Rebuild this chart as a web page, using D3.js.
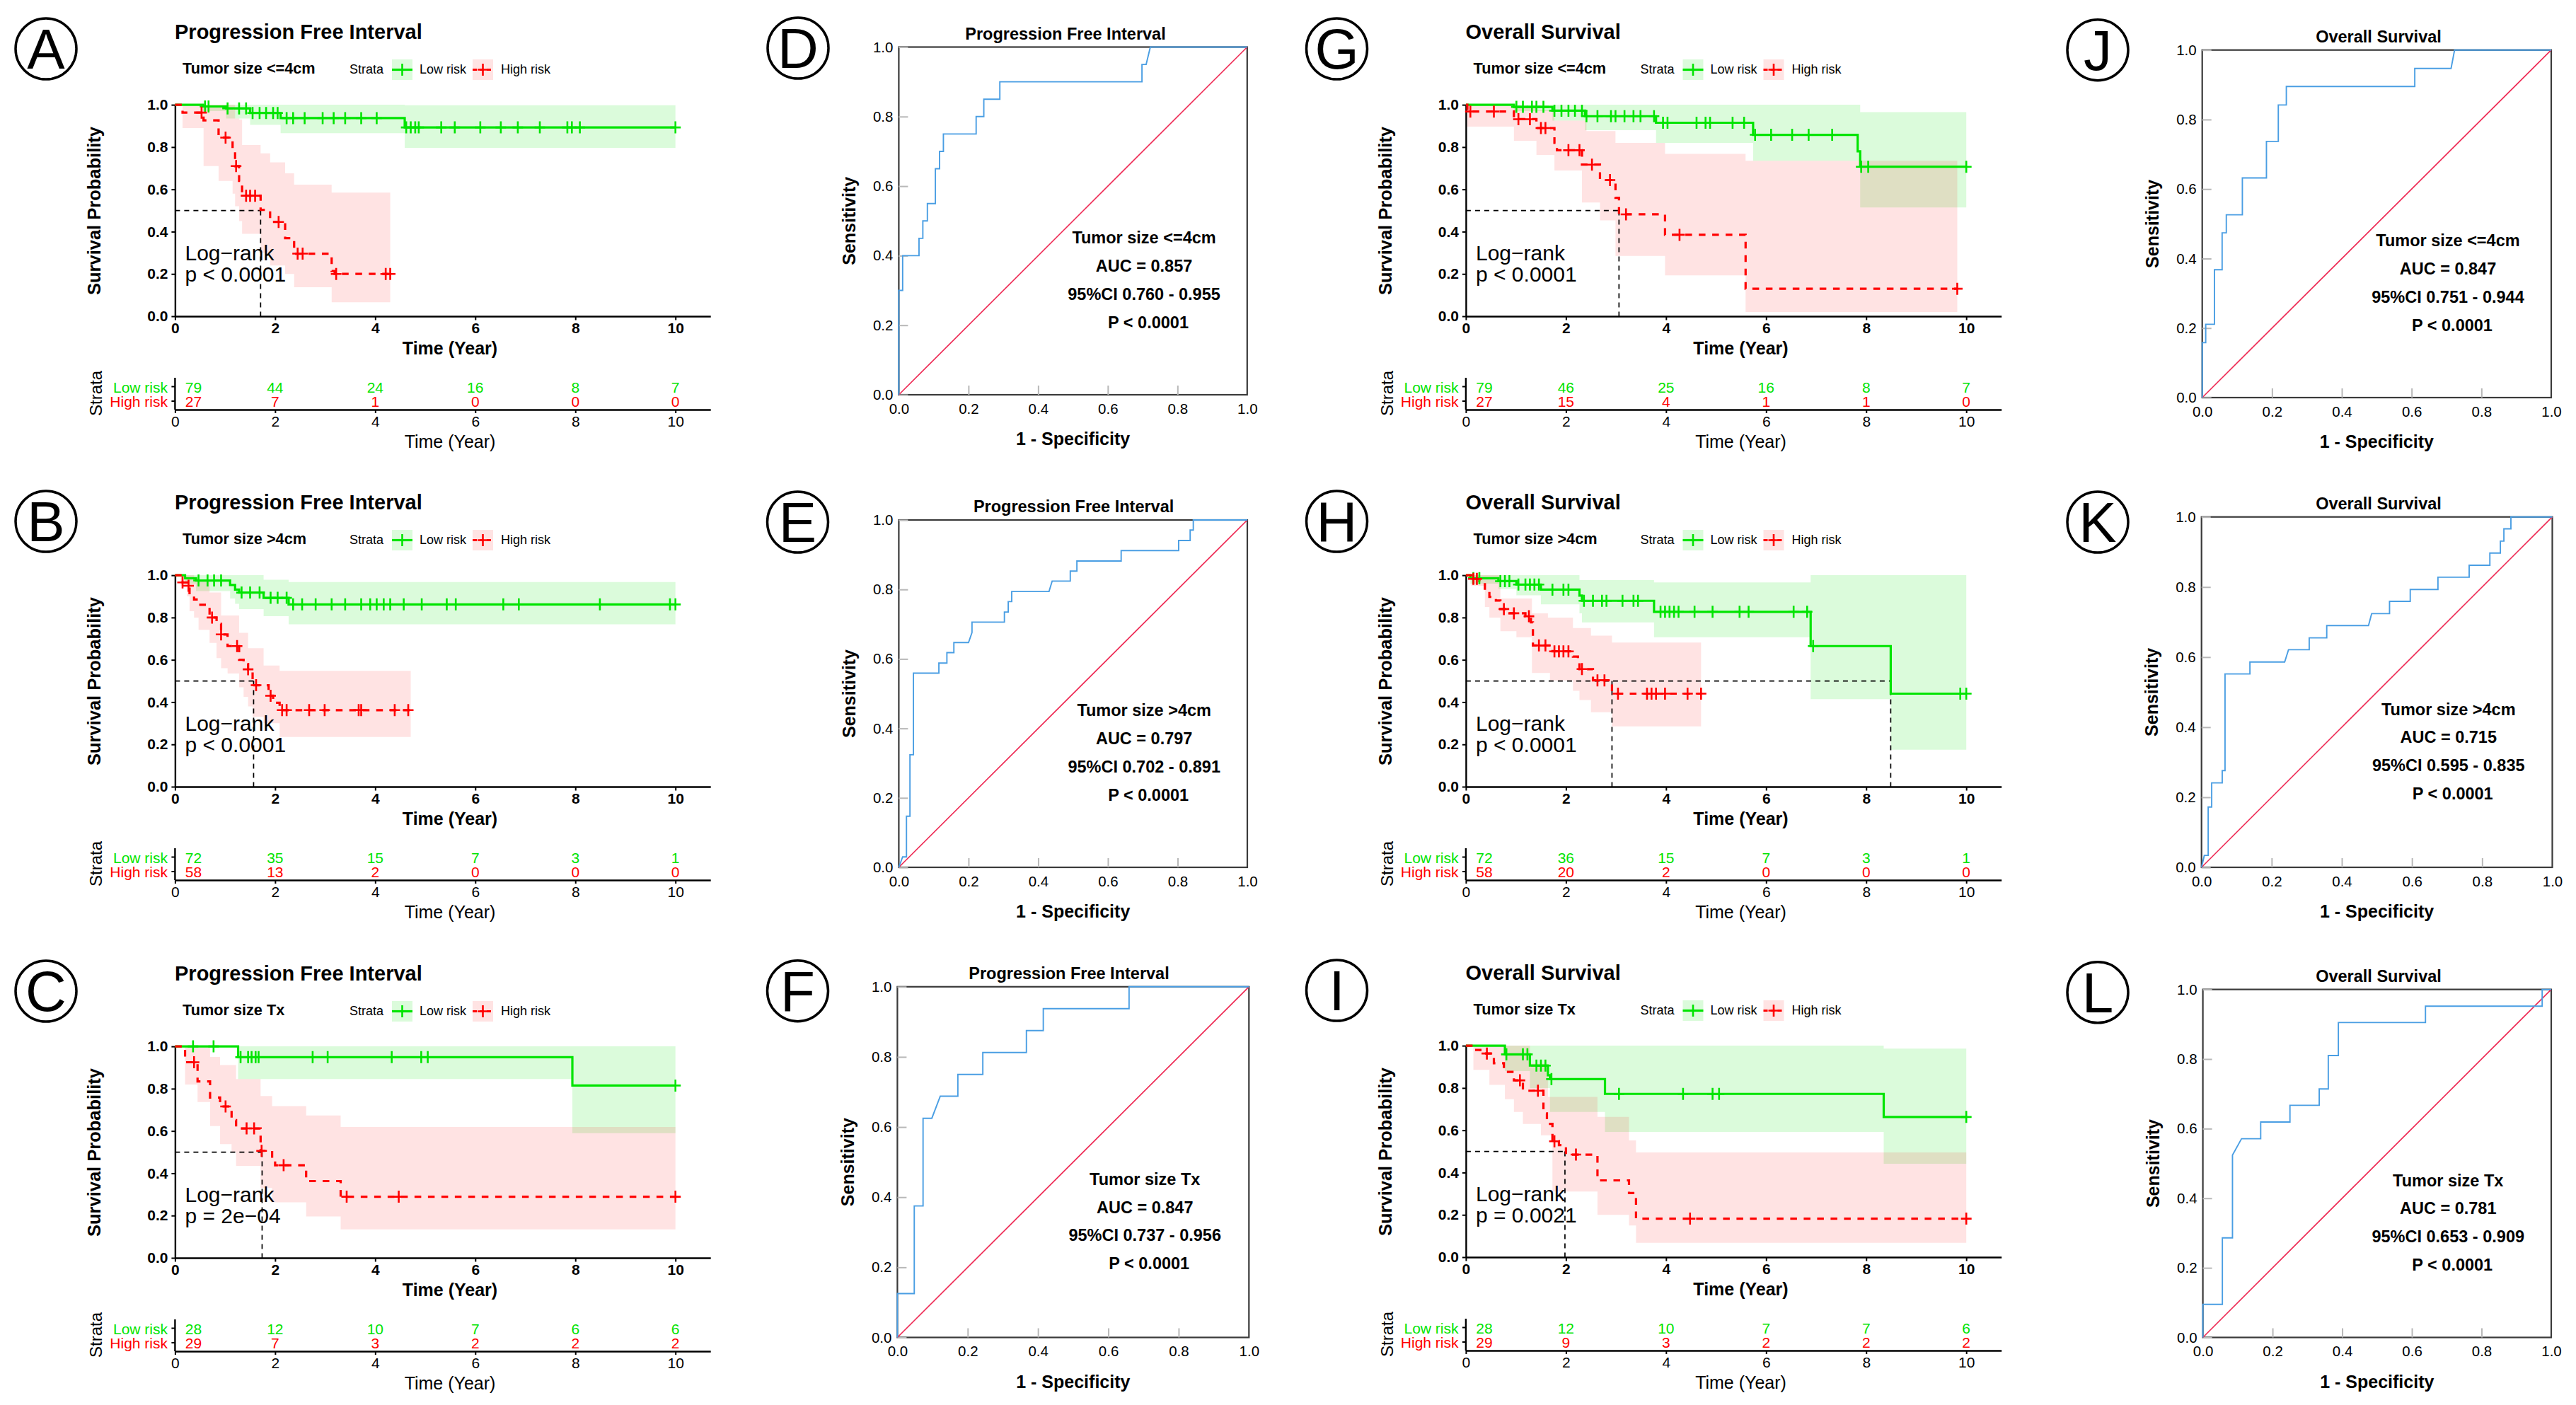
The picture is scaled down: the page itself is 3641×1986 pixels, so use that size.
<!DOCTYPE html>
<html><head><meta charset="utf-8">
<script src="https://cdn.jsdelivr.net/npm/d3@7"></script>
<style>body{margin:0;background:#fff}svg{display:block}</style>
</head><body>
<svg id="c" width="3641" height="1986"></svg>
<script>
// ---------------- DATA ----------------
const timeTicks = [0, 2, 4, 6, 8, 10];
const survTicks = [0, 0.2, 0.4, 0.6, 0.8, 1.0];
const rocTicks = [0, 0.2, 0.4, 0.6, 0.8, 1.0];

// A: PFI, tumor size <=4cm
const aLowSteps = [[0,1],[0.56,0.992],[1.02,0.983],[1.5,0.961],[2.11,0.937],[4.59,0.893],[10,0.893]];
const aLowBand = [[0.56,0.97,1],[1.02,0.935,1],[1.5,0.905,1],[2.11,0.866,1],[4.59,0.796,0.998],[10,0.796,0.998]];
const aLowCensor = [0.6,0.67,1.05,1.28,1.42,1.55,1.69,1.82,1.96,2.05,2.23,2.36,2.59,2.95,3.17,3.4,3.72,4.03,4.62,4.71,4.8,4.87,5.32,5.59,6.1,6.51,6.85,7.29,7.84,7.93,8.09,10];
const aHighSteps = [[0,1],[0.15,0.963],[0.57,0.926],[0.87,0.845],[1.15,0.79],[1.2,0.71],[1.28,0.64],[1.34,0.57],[1.71,0.503],[1.9,0.446],[2.2,0.369],[2.38,0.296],[3.13,0.214],[3.19,0.2],[4.3,0.2]];
const aHighBand = [[0.15,0.89,1],[0.57,0.71,1],[0.87,0.64,1],[1.15,0.58,1],[1.2,0.52,0.935],[1.28,0.45,0.93],[1.34,0.39,0.81],[1.71,0.3,0.77],[1.9,0.24,0.728],[2.2,0.2,0.676],[2.38,0.137,0.622],[3.13,0.066,0.585],[4.3,0.066,0.585]];
const aHighCensor = [0.53,1.01,1.22,1.42,1.5,1.6,2.07,2.45,2.55,3.22,4.21,4.3];
const aLowRisk = [79,44,24,16,8,7];
const aHighRisk = [27,7,1,0,0,0];
const aMedians = [1.71];

// B: PFI, tumor size >4cm
const bLowSteps = [[0,1],[0.2,0.986],[0.42,0.975],[1.1,0.954],[1.2,0.932],[1.28,0.918],[1.77,0.893],[2.27,0.862],[10,0.862]];
const bLowBand = [[0.2,0.96,1],[0.42,0.925,1],[1.1,0.89,1],[1.2,0.865,1],[1.28,0.84,1],[1.77,0.806,0.979],[2.27,0.768,0.968],[10,0.768,0.968]];
const bLowCensor = [0.47,0.65,0.78,0.92,1.33,1.5,1.69,1.91,2.05,2.23,2.36,2.54,2.81,3.13,3.4,3.72,3.9,4.03,4.17,4.3,4.57,4.93,5.43,5.61,6.56,6.87,8.49,9.89,10];
const bHighSteps = [[0,1],[0.11,0.983],[0.15,0.966],[0.24,0.95],[0.29,0.907],[0.38,0.885],[0.47,0.86],[0.69,0.8],[0.83,0.77],[0.92,0.72],[1.05,0.665],[1.28,0.6],[1.37,0.58],[1.46,0.555],[1.55,0.48],[1.87,0.43],[1.96,0.397],[2.09,0.362],[4.71,0.362]];
const bHighBand = [[0.11,0.95,1],[0.24,0.9,1],[0.29,0.83,1],[0.38,0.8,0.985],[0.47,0.742,0.97],[0.69,0.68,0.918],[0.83,0.608,0.918],[0.92,0.56,0.81],[1.05,0.535,0.81],[1.28,0.47,0.728],[1.37,0.425,0.728],[1.46,0.38,0.655],[1.55,0.33,0.655],[1.77,0.3,0.573],[2.09,0.235,0.548],[4.71,0.235,0.548]];
const bHighCensor = [0.15,0.27,0.74,0.92,1.24,1.46,1.62,1.91,2.14,2.23,2.68,2.99,3.67,3.72,4.39,4.66];
const bLowRisk = [72,35,15,7,3,1];
const bHighRisk = [58,13,2,0,0,0];
const bMedians = [1.57];

// C: PFI, tumor size Tx
const cLowSteps = [[0,1],[1.26,0.949],[7.94,0.815],[10,0.815]];
const cLowBand = [[1.26,0.846,1],[7.94,0.59,1],[10,0.59,1]];
const cLowCensor = [0.36,0.77,1.31,1.46,1.53,1.61,1.67,2.75,3.05,4.33,4.92,5.05,10];
const cHighSteps = [[0,1],[0.2,0.925],[0.45,0.834],[0.7,0.758],[0.9,0.716],[1.13,0.651],[1.22,0.612],[1.71,0.506],[1.94,0.469],[2.0,0.438],[2.62,0.363],[3.31,0.289],[10,0.289]];
const cHighBand = [[0.2,0.82,1],[0.45,0.737,1],[0.7,0.623,0.95],[0.9,0.538,0.912],[1.13,0.5,0.912],[1.22,0.435,0.846],[1.71,0.33,0.765],[1.94,0.263,0.718],[2.62,0.196,0.673],[3.31,0.135,0.619],[10,0.135,0.619]];
const cHighCensor = [0.38,1.01,1.43,1.58,1.73,2.17,3.43,4.47,10];
const cLowRisk = [28,12,10,7,6,6];
const cHighRisk = [29,7,3,2,2,2];
const cMedians = [1.74];

// G: OS, tumor size <=4cm
const gLowSteps = [[0,1],[0.96,0.99],[1.73,0.972],[2.38,0.946],[3.8,0.915],[5.74,0.858],[7.83,0.78],[7.88,0.707],[10,0.707]];
const gLowBand = [[0.96,0.97,1],[1.73,0.925,1],[2.38,0.88,1],[3.8,0.82,1],[5.74,0.735,1],[7.88,0.514,0.965],[10,0.514,0.965]];
const gLowCensor = [1.01,1.14,1.32,1.41,1.55,1.77,1.91,2.05,2.18,2.32,2.41,2.63,2.9,2.99,3.17,3.35,3.49,3.76,3.94,4.03,4.61,4.79,4.88,5.33,5.56,5.78,6.1,6.52,6.85,7.32,7.9,8.04,10];
const gHighSteps = [[0,1],[0.03,0.968],[0.96,0.932],[1.41,0.89],[1.77,0.82],[1.82,0.785],[2.32,0.717],[2.68,0.644],[2.99,0.56],[3.06,0.482],[3.98,0.385],[5.59,0.13],[9.82,0.13]];
const gHighBand = [[0.03,0.897,1],[0.96,0.83,0.985],[1.41,0.763,0.975],[1.77,0.689,0.925],[2.32,0.538,0.925],[2.41,0.538,0.876],[2.68,0.453,0.876],[2.99,0.285,0.82],[3.98,0.193,0.768],[5.59,0.02,0.735],[9.82,0.02,0.735]];
const gHighCensor = [0.09,0.56,1.05,1.28,1.5,1.59,2.05,2.27,2.52,2.88,3.2,4.27,9.82];
const gLowRisk = [79,46,25,16,8,7];
const gHighRisk = [27,15,4,1,1,0];
const gMedians = [3.06];

// H: OS, tumor size >4cm
const hLowSteps = [[0,1],[0.09,0.986],[0.65,0.972],[1.01,0.956],[1.5,0.932],[2.27,0.904],[2.32,0.879],[3.76,0.827],[6.89,0.665],[8.49,0.44],[10,0.44]];
const hLowBand = [[0.09,0.96,1],[0.65,0.935,1],[1.01,0.905,1],[1.5,0.862,1],[2.27,0.82,0.977],[2.32,0.777,0.977],[3.76,0.707,0.966],[6.89,0.414,1],[8.49,0.175,1],[10,0.175,1]];
const hLowCensor = [0.15,0.27,0.69,0.78,0.87,1.05,1.19,1.28,1.37,1.46,1.73,1.95,2.05,2.36,2.54,2.72,2.81,3.13,3.35,3.44,3.89,3.98,4.07,4.16,4.25,4.57,4.93,5.47,5.65,6.55,6.82,6.94,9.88,10];
const hHighSteps = [[0,1],[0.11,0.983],[0.27,0.972],[0.38,0.93],[0.47,0.898],[0.6,0.88],[0.69,0.84],[0.87,0.82],[1.19,0.806],[1.3,0.777],[1.34,0.668],[1.73,0.64],[2.14,0.615],[2.24,0.594],[2.27,0.556],[2.54,0.503],[2.92,0.44],[4.7,0.44]];
const hHighBand = [[0.11,0.95,1],[0.38,0.85,1],[0.47,0.8,1],[0.69,0.735,0.89],[1.01,0.707,0.89],[1.32,0.538,0.82],[1.64,0.538,0.8],[1.68,0.503,0.8],[2.14,0.453,0.75],[2.27,0.41,0.75],[2.5,0.352,0.714],[2.92,0.285,0.682],[4.7,0.285,0.682]];
const hHighCensor = [0.15,0.22,0.76,0.96,1.26,1.46,1.59,1.77,1.86,1.95,2.05,2.32,2.63,2.77,3.04,3.62,3.71,3.8,3.98,4.43,4.7];
const hLowRisk = [72,36,15,7,3,1];
const hHighRisk = [58,20,2,0,0,0];
const hMedians = [2.92, 8.49];

// I: OS, tumor size Tx
const iLowSteps = [[0,1],[0.78,0.959],[1.28,0.906],[1.64,0.86],[1.68,0.842],[2.78,0.772],[8.35,0.663],[10,0.663]];
const iLowBand = [[0.78,0.88,1],[1.28,0.8,1],[1.68,0.687,1],[2.78,0.592,1],[8.35,0.442,0.986],[10,0.442,0.986]];
const iLowCensor = [0.81,1.14,1.23,1.41,1.5,1.59,1.71,3.06,4.34,4.93,5.06,10];
const iHighSteps = [[0,1],[0.15,0.98],[0.29,0.963],[0.56,0.917],[0.76,0.876],[0.96,0.836],[1.14,0.787],[1.55,0.68],[1.62,0.63],[1.73,0.548],[1.86,0.53],[2.0,0.485],[2.63,0.363],[3.26,0.303],[3.4,0.182],[10,0.182]];
const iHighBand = [[0.15,0.886,1],[0.47,0.815,1],[0.78,0.747,1],[0.96,0.687,1],[1.14,0.63,1],[1.28,0.63,0.915],[1.5,0.576,0.915],[1.64,0.576,0.758],[1.73,0.31,0.758],[2.63,0.2,0.663],[3.26,0.15,0.552],[3.4,0.068,0.495],[10,0.068,0.495]];
const iHighCensor = [0.42,1.08,1.44,1.77,2.2,4.48,10];
const iLowRisk = [28,12,10,7,7,6];
const iHighRisk = [29,9,3,2,2,2];
const iMedians = [1.98];

// ROC curves: [1 - specificity, sensitivity]
const dRoc = [[0,0],[0,0.30],[0.011,0.30],[0.011,0.40],[0.058,0.40],[0.058,0.45],[0.069,0.45],[0.069,0.50],[0.082,0.50],[0.082,0.55],[0.105,0.55],[0.105,0.65],[0.117,0.65],[0.117,0.70],[0.128,0.70],[0.128,0.75],[0.222,0.75],[0.222,0.80],[0.244,0.80],[0.244,0.85],[0.29,0.85],[0.29,0.90],[0.698,0.90],[0.698,0.95],[0.71,0.95],[0.722,1.0],[1,1]];
const eRoc = [[0,0],[0.011,0.03],[0.022,0.03],[0.022,0.147],[0.032,0.147],[0.032,0.324],[0.042,0.324],[0.042,0.559],[0.115,0.559],[0.115,0.588],[0.138,0.588],[0.138,0.618],[0.158,0.618],[0.158,0.647],[0.2,0.647],[0.21,0.676],[0.21,0.706],[0.303,0.706],[0.303,0.735],[0.314,0.735],[0.314,0.765],[0.324,0.765],[0.324,0.794],[0.431,0.794],[0.44,0.824],[0.492,0.824],[0.492,0.853],[0.511,0.853],[0.511,0.882],[0.638,0.882],[0.638,0.912],[0.803,0.912],[0.803,0.941],[0.836,0.941],[0.836,0.971],[0.845,0.971],[0.845,1],[1,1]];
const fRoc = [[0,0],[0,0.125],[0.048,0.125],[0.048,0.375],[0.073,0.375],[0.073,0.625],[0.098,0.625],[0.122,0.688],[0.172,0.688],[0.172,0.75],[0.243,0.75],[0.243,0.8125],[0.367,0.8125],[0.367,0.875],[0.415,0.875],[0.415,0.9375],[0.659,0.9375],[0.659,1],[1,1]];
const jRoc = [[0,0],[0,0.158],[0.01,0.158],[0.01,0.211],[0.035,0.211],[0.035,0.368],[0.057,0.368],[0.057,0.474],[0.069,0.474],[0.069,0.526],[0.115,0.526],[0.115,0.632],[0.184,0.632],[0.184,0.737],[0.218,0.737],[0.218,0.842],[0.241,0.842],[0.241,0.895],[0.609,0.895],[0.609,0.947],[0.713,0.947],[0.723,1],[1,1]];
const kRoc = [[0,0],[0.008,0.034],[0.019,0.034],[0.019,0.172],[0.029,0.172],[0.029,0.241],[0.059,0.241],[0.059,0.276],[0.067,0.276],[0.067,0.552],[0.138,0.552],[0.138,0.586],[0.237,0.586],[0.248,0.621],[0.307,0.621],[0.307,0.655],[0.357,0.655],[0.357,0.69],[0.476,0.69],[0.485,0.724],[0.536,0.724],[0.536,0.759],[0.595,0.759],[0.595,0.793],[0.674,0.793],[0.674,0.828],[0.763,0.828],[0.763,0.862],[0.822,0.862],[0.822,0.897],[0.852,0.897],[0.852,0.931],[0.862,0.931],[0.862,0.966],[0.882,0.966],[0.882,1],[1,1]];
const lRoc = [[0,0],[0,0.095],[0.056,0.095],[0.056,0.286],[0.085,0.286],[0.085,0.524],[0.111,0.571],[0.166,0.571],[0.166,0.619],[0.25,0.619],[0.25,0.667],[0.334,0.667],[0.334,0.714],[0.36,0.714],[0.36,0.81],[0.389,0.81],[0.389,0.905],[0.639,0.905],[0.639,0.952],[0.974,0.952],[0.974,1],[1,1]];

const dNotes = ['Tumor size <=4cm','AUC = 0.857','95%CI 0.760 - 0.955','P < 0.0001'];
const eNotes = ['Tumor size >4cm','AUC = 0.797','95%CI 0.702 - 0.891','P < 0.0001'];
const fNotes = ['Tumor size Tx','AUC = 0.847','95%CI 0.737 - 0.956','P < 0.0001'];
const jNotes = ['Tumor size <=4cm','AUC = 0.847','95%CI 0.751 - 0.944','P < 0.0001'];
const kNotes = ['Tumor size >4cm','AUC = 0.715','95%CI 0.595 - 0.835','P < 0.0001'];
const lNotes = ['Tumor size Tx','AUC = 0.781','95%CI 0.653 - 0.909','P < 0.0001'];

const pfiTitle = 'Progression Free Interval';
const osTitle = 'Overall Survival';
const strataNames = ['Low risk', 'High risk'];

// ---------------- STYLE / LAYOUT ----------------
const FONT = "'Liberation Sans', Arial, Helvetica, sans-serif";
const GREEN = '#00e400', RED = '#ff0000';
const BLUE_ROC = '#4a9ee3', RED_ROC = '#ee2b55';
const svg = d3.select('#c');
const fmt1 = d3.format('.1f');

function T(g, x, y, s, o = {}) {
  const t = g.append('text').attr('x', x).attr('y', y).text(s)
    .attr('font-family', FONT).attr('font-size', o.size || 20)
    .attr('font-weight', o.weight || 'normal')
    .attr('text-anchor', o.anchor || 'start')
    .attr('fill', o.fill || '#000');
  if (o.rotate) t.attr('transform', `rotate(${o.rotate},${x},${y})`);
  if (o.dx) t.attr('dx', o.dx);
  return t;
}
function circleLabel(cx, cy, ch) {
  svg.append('circle').attr('cx', cx).attr('cy', cy).attr('r', 43)
    .attr('fill', 'none').attr('stroke', '#000').attr('stroke-width', 3.5);
  T(svg, cx, cy + 28, ch, {size: 80, anchor: 'middle'});
}
function plus(g, x, y, color) {
  g.append('path').attr('d', `M${x-7.5},${y}H${x+7.5}M${x},${y-8.5}V${y+8.5}`)
    .attr('stroke', color).attr('stroke-width', 2.6).attr('fill', 'none');
}
function survAt(steps, t) {
  let s = steps[0][1];
  for (const [tt, ss] of steps) if (tt <= t) s = ss;
  return s;
}
function styleAxis(a, size, weight) {
  a.selectAll('text').attr('font-family', FONT).attr('font-size', size)
    .attr('font-weight', weight).attr('fill', '#000');
  a.selectAll('line').attr('stroke', '#000').attr('stroke-width', 2);
  a.select('.domain').attr('stroke', '#000').attr('stroke-width', 2.4);
}

function drawKM(P, L) {
  const ox = L.ox, oy = L.oy;
  const g = svg.append('g');
  const pxPerYear = 70.73;
  const x = d3.scaleLinear().domain([0, 10.7]).range([247.4 + ox, 247.4 + ox + 10.7 * pxPerYear]);
  const y = d3.scaleLinear().domain([0, 1]).range([447 + oy, 148.1 + oy]);

  circleLabel(65 + ox, 69 + oy + L.cdy, P.letter);
  T(g, 247 + ox, 55 + oy, P.title, {size: 29, weight: 'bold'});
  T(g, 258 + ox, 104 + oy, P.sub, {size: 21.7, weight: 'bold'});
  T(g, 494 + ox, 104 + oy, 'Strata', {size: 18});
  // legend keys
  [[554, GREEN, false, 0.14, 593, strataNames[0]], [668, RED, true, 0.11, 708, strataNames[1]]].forEach(k => {
    const kx = k[0] + ox, ky = 84 + oy;
    g.append('rect').attr('x', kx).attr('y', ky).attr('width', 29).attr('height', 29)
      .attr('fill', k[1]).attr('fill-opacity', k[3]);
    g.append('line').attr('x1', kx).attr('x2', kx + 29).attr('y1', ky + 14.5).attr('y2', ky + 14.5)
      .attr('stroke', k[1]).attr('stroke-width', 3.2).attr('stroke-dasharray', k[2] ? '6,4' : null);
    plus(g, kx + 14.5, ky + 14.5, k[1]);
    T(g, k[4] + ox, 104 + oy, k[5], {size: 18});
  });

  // confidence bands
  const area = d3.area().curve(d3.curveStepAfter).x(d => x(d[0])).y0(d => y(d[1])).y1(d => y(d[2]));
  g.append('path').attr('d', area(P.lowBand)).attr('fill', GREEN).attr('fill-opacity', 0.14);
  g.append('path').attr('d', area(P.highBand)).attr('fill', RED).attr('fill-opacity', 0.11);

  // median survival lines
  const mMax = d3.max(P.medians);
  g.append('line').attr('x1', x(0)).attr('x2', x(mMax)).attr('y1', y(0.5)).attr('y2', y(0.5))
    .attr('stroke', '#000').attr('stroke-width', 1.7).attr('stroke-dasharray', '7,6');
  P.medians.forEach(m => g.append('line').attr('x1', x(m)).attr('x2', x(m)).attr('y1', y(0.5)).attr('y2', y(0))
    .attr('stroke', '#000').attr('stroke-width', 1.7).attr('stroke-dasharray', '7,6'));

  // axes
  const ya = g.append('g').attr('transform', `translate(${x(0)},0)`)
    .call(d3.axisLeft(y).tickValues(survTicks).tickFormat(fmt1).tickSize(5).tickPadding(5).tickSizeOuter(0));
  styleAxis(ya, 21, 'bold');
  const xa = g.append('g').attr('transform', `translate(0,${y(0)})`)
    .call(d3.axisBottom(x).tickValues(timeTicks).tickSize(5.5).tickPadding(3.5).tickSizeOuter(0));
  styleAxis(xa, 21, 'bold');

  // curves
  const line = d3.line().curve(d3.curveStepAfter).x(d => x(d[0])).y(d => y(d[1]));
  g.append('path').attr('d', line(P.low)).attr('fill', 'none').attr('stroke', GREEN).attr('stroke-width', 3.2);
  g.append('path').attr('d', line(P.high)).attr('fill', 'none').attr('stroke', RED).attr('stroke-width', 3.2)
    .attr('stroke-dasharray', '9.5,9.5');
  P.lowCens.forEach(t => plus(g, x(t), y(survAt(P.low, t)), GREEN));
  P.highCens.forEach(t => plus(g, x(t), y(survAt(P.high, t)), RED));

  T(g, 261.5 + ox, 368 + oy, 'Log\u2212rank', {size: 30});
  T(g, 261.5 + ox, 398 + oy, P.pText, {size: 30});
  T(g, 636 + ox, 501 + oy, 'Time (Year)', {size: 25, weight: 'bold', anchor: 'middle'});
  T(g, 142 + ox, 298 + oy, 'Survival Probability', {size: 25.5, weight: 'bold', anchor: 'middle', rotate: -90});

  // risk table
  const tTop = 534 + oy, tBot = 579 + oy;
  g.append('line').attr('x1', x(0)).attr('x2', x(0)).attr('y1', tTop).attr('y2', tBot)
    .attr('stroke', '#000').attr('stroke-width', 2.4);
  const ta = g.append('g').attr('transform', `translate(0,${tBot})`)
    .call(d3.axisBottom(x).tickValues(timeTicks).tickSize(5).tickPadding(4.5).tickSizeOuter(0));
  styleAxis(ta, 21, 'normal');
  [[P.lowRisk, 554.5, GREEN, strataNames[0]], [P.highRisk, 575, RED, strataNames[1]]].forEach(r => {
    const by = r[1] + oy;
    g.append('line').attr('x1', x(0) - 5).attr('x2', x(0)).attr('y1', by - 8).attr('y2', by - 8)
      .attr('stroke', '#000').attr('stroke-width', 2);
    T(g, 237 + ox, by, r[3], {size: 21, anchor: 'end', fill: r[2]});
    r[0].forEach((n, i) => T(g, i === 0 ? x(timeTicks[i]) + 26 : x(timeTicks[i]), by, n,
      {size: 21, anchor: 'middle', fill: r[2]}));
  });
  T(g, 144 + ox, 556 + oy, 'Strata', {size: 24, anchor: 'middle', rotate: -90});
  T(g, 636 + ox, 633 + oy, 'Time (Year)', {size: 25, anchor: 'middle'});
}

function drawROC(P, L) {
  const [x0, x1, yT, yB] = L.box;
  const g = svg.append('g');
  const x = d3.scaleLinear().domain([0, 1]).range([x0, x1]);
  const y = d3.scaleLinear().domain([0, 1]).range([yB, yT]);
  circleLabel(L.cx, L.cy, P.letter);
  T(g, L.tx, yT - 11, P.title, {size: 23.5, weight: 'bold', anchor: 'middle'});
  g.append('rect').attr('x', x0).attr('y', yT).attr('width', x1 - x0).attr('height', yB - yT)
    .attr('fill', 'none').attr('stroke', '#3a3a3a').attr('stroke-width', 2.2);
  const ya = g.append('g').attr('transform', `translate(${x0},0)`)
    .call(d3.axisLeft(y).tickValues(rocTicks).tickFormat(fmt1).tickSize(-13).tickPadding(8).tickSizeOuter(0));
  ya.select('.domain').remove();
  ya.selectAll('line').attr('stroke', '#b8b8b8').attr('stroke-width', 2);
  ya.selectAll('text').attr('font-family', FONT).attr('font-size', 20.5).attr('fill', '#000');
  const xa = g.append('g').attr('transform', `translate(0,${yB})`)
    .call(d3.axisBottom(x).tickValues(rocTicks).tickFormat(fmt1).tickSize(-13).tickPadding(12).tickSizeOuter(0));
  xa.select('.domain').remove();
  xa.selectAll('line').attr('stroke', '#b8b8b8').attr('stroke-width', 2)
    .attr('stroke-opacity', d => (d === 0 || d === 1) ? 0 : 1);
  xa.selectAll('text').attr('font-family', FONT).attr('font-size', 20.5).attr('fill', '#000');
  g.append('line').attr('x1', x(0)).attr('y1', y(0)).attr('x2', x(1)).attr('y2', y(1))
    .attr('stroke', RED_ROC).attr('stroke-width', 1.7);
  g.append('path').attr('d', d3.line().x(d => x(d[0])).y(d => y(d[1]))(P.pts))
    .attr('fill', 'none').attr('stroke', BLUE_ROC).attr('stroke-width', 1.9);
  const h = yB - yT, w = x1 - x0;
  P.notes.forEach((s, i) => T(g, x0 + 0.704 * w, yT + 0.565 * h + i * 39.8, s,
    {size: 23.5, weight: 'bold', anchor: 'middle', dx: i === 3 ? 6 : 0}));
  T(g, (x0 + x1) / 2, yB + 71, '1 - Specificity', {size: 25, weight: 'bold', anchor: 'middle'});
  T(g, x0 - 61.5, (yT + yB) / 2, 'Sensitivity', {size: 25, weight: 'bold', anchor: 'middle', rotate: -90});
}

// ---------------- BUILD ----------------
const kmPanels = [
  {letter:'A', title:pfiTitle, sub:'Tumor size <=4cm', pText:'p < 0.0001', low:aLowSteps, high:aHighSteps, lowBand:aLowBand, highBand:aHighBand, lowCens:aLowCensor, highCens:aHighCensor, lowRisk:aLowRisk, highRisk:aHighRisk, medians:aMedians},
  {letter:'B', title:pfiTitle, sub:'Tumor size >4cm', pText:'p < 0.0001', low:bLowSteps, high:bHighSteps, lowBand:bLowBand, highBand:bHighBand, lowCens:bLowCensor, highCens:bHighCensor, lowRisk:bLowRisk, highRisk:bHighRisk, medians:bMedians},
  {letter:'C', title:pfiTitle, sub:'Tumor size Tx', pText:'p = 2e\u221204', low:cLowSteps, high:cHighSteps, lowBand:cLowBand, highBand:cHighBand, lowCens:cLowCensor, highCens:cHighCensor, lowRisk:cLowRisk, highRisk:cHighRisk, medians:cMedians},
  {letter:'G', title:osTitle, sub:'Tumor size <=4cm', pText:'p < 0.0001', low:gLowSteps, high:gHighSteps, lowBand:gLowBand, highBand:gHighBand, lowCens:gLowCensor, highCens:gHighCensor, lowRisk:gLowRisk, highRisk:gHighRisk, medians:gMedians},
  {letter:'H', title:osTitle, sub:'Tumor size >4cm', pText:'p < 0.0001', low:hLowSteps, high:hHighSteps, lowBand:hLowBand, highBand:hHighBand, lowCens:hLowCensor, highCens:hHighCensor, lowRisk:hLowRisk, highRisk:hHighRisk, medians:hMedians},
  {letter:'I', title:osTitle, sub:'Tumor size Tx', pText:'p = 0.0021', low:iLowSteps, high:iHighSteps, lowBand:iLowBand, highBand:iHighBand, lowCens:iLowCensor, highCens:iHighCensor, lowRisk:iLowRisk, highRisk:iHighRisk, medians:iMedians}
];
const kmLayout = [
  {ox:0, oy:0, cdy:0}, {ox:0, oy:665, cdy:3}, {ox:0, oy:1331, cdy:1},
  {ox:1824.5, oy:0, cdy:0}, {ox:1824.5, oy:665, cdy:3}, {ox:1824.5, oy:1330, cdy:1}
];
kmPanels.forEach((p, i) => drawKM(p, kmLayout[i]));

const rocPanels = [
  {letter:'D', title:pfiTitle, pts:dRoc, notes:dNotes},
  {letter:'E', title:pfiTitle, pts:eRoc, notes:eNotes},
  {letter:'F', title:pfiTitle, pts:fRoc, notes:fNotes},
  {letter:'J', title:osTitle, pts:jRoc, notes:jNotes},
  {letter:'K', title:osTitle, pts:kRoc, notes:kNotes},
  {letter:'L', title:osTitle, pts:lRoc, notes:lNotes}
];
const rocLayout = [
  {box:[1270.4, 1762.8, 66.5, 558], cx:1128, cy:68, tx:1506},
  {box:[1270.4, 1763, 735, 1226], cx:1127.5, cy:738, tx:1517.6},
  {box:[1268.4, 1765.3, 1394.8, 1890.5], cx:1127.5, cy:1400.7, tx:1511},
  {box:[3112.7, 3606, 70.7, 562], cx:2965, cy:70.7, tx:3362},
  {box:[3111.7, 3607.5, 730.7, 1226], cx:2965, cy:738, tx:3362},
  {box:[3113.6, 3606, 1398.6, 1890.5], cx:2965, cy:1402.8, tx:3362}
];
rocPanels.forEach((p, i) => drawROC(p, rocLayout[i]));
</script>
</body></html>
